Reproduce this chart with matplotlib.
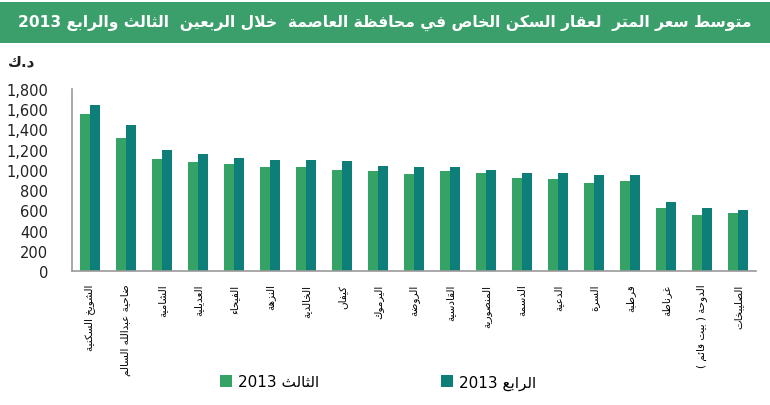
import re
import matplotlib
matplotlib.use("Agg")
import matplotlib.pyplot as plt
from matplotlib.patches import Rectangle, Patch
from matplotlib.ticker import FuncFormatter

# ---------------- data ----------------
title_text = "متوسط سعر المتر  لعقار السكن الخاص في محافظة العاصمة  خلال الربعين  الثالث والرابع 2013"
unit_text = "د.ك"
categories = ["الشويخ السكنية", "ضاحية عبدالله السالم", "الشامية", "العديلية", "الفيحاء",
              "النزهة", "الخالدية", "كيفان", "اليرموك", "الروضة", "القادسية", "المنصورية",
              "الدسمة", "الدعية", "السرة", "قرطبة", "غرناطة", "الدوحة ( بيت قائم )", "الصليبخات"]
q3_values = [1550, 1320, 1110, 1080, 1060, 1025, 1025, 995, 985, 955, 985, 965,
             918, 908, 872, 892, 622, 552, 572]
q4_values = [1645, 1440, 1197, 1153, 1120, 1100, 1100, 1090, 1040, 1030, 1025, 998,
             972, 965, 948, 945, 682, 622, 602]
series_labels = ["الثالث 2013", "الرابع 2013"]
y_ticks = [0, 200, 400, 600, 800, 1000, 1200, 1400, 1600, 1800]

# ---------------- Arabic shaping helpers ----------------
FORMS = {
    '\u0621': (0xFE80, 1), '\u0622': (0xFE81, 2), '\u0623': (0xFE83, 2), '\u0624': (0xFE85, 2),
    '\u0625': (0xFE87, 2), '\u0626': (0xFE89, 4), '\u0627': (0xFE8D, 2), '\u0628': (0xFE8F, 4),
    '\u0629': (0xFE93, 2), '\u062A': (0xFE95, 4), '\u062B': (0xFE99, 4), '\u062C': (0xFE9D, 4),
    '\u062D': (0xFEA1, 4), '\u062E': (0xFEA5, 4), '\u062F': (0xFEA9, 2), '\u0630': (0xFEAB, 2),
    '\u0631': (0xFEAD, 2), '\u0632': (0xFEAF, 2), '\u0633': (0xFEB1, 4), '\u0634': (0xFEB5, 4),
    '\u0635': (0xFEB9, 4), '\u0636': (0xFEBD, 4), '\u0637': (0xFEC1, 4), '\u0638': (0xFEC5, 4),
    '\u0639': (0xFEC9, 4), '\u063A': (0xFECD, 4), '\u0641': (0xFED1, 4), '\u0642': (0xFED5, 4),
    '\u0643': (0xFED9, 4), '\u0644': (0xFEDD, 4), '\u0645': (0xFEE1, 4), '\u0646': (0xFEE5, 4),
    '\u0647': (0xFEE9, 4), '\u0648': (0xFEED, 2), '\u0649': (0xFEEF, 2), '\u064A': (0xFEF1, 4),
}
LAMALEF = {'\u0622': 0xFEF5, '\u0623': 0xFEF7, '\u0625': 0xFEF9, '\u0627': 0xFEFB}
MIRROR = {'(': ')', ')': '('}


def shape(s):
    toks = []
    i = 0
    while i < len(s):
        c = s[i]
        if c == '\u0644' and i + 1 < len(s) and s[i + 1] in LAMALEF:
            toks.append(('LA', LAMALEF[s[i + 1]]))
            i += 2
        else:
            toks.append((c, None))
            i += 1

    def nf(t):
        if t[0] == 'LA':
            return 2
        return FORMS.get(t[0], (0, 0))[1]

    res = []
    for k, t in enumerate(toks):
        n = nf(t)
        if n == 0:
            res.append(t[0])
            continue
        base = t[1] if t[0] == 'LA' else FORMS[t[0]][0]
        if n == 1:
            res.append(chr(base))
            continue
        pj = k > 0 and nf(toks[k - 1]) == 4
        nj = n == 4 and k + 1 < len(toks) and nf(toks[k + 1]) >= 2
        off = 3 if (pj and nj) else 1 if pj else 2 if nj else 0
        res.append(chr(base + off))
    return ''.join(res)


def rtl(s):
    shaped = shape(s)
    runs = re.findall(r'[0-9][0-9,.]*|[^0-9]+', shaped)
    out = []
    for r in reversed(runs):
        if r[0].isdigit():
            out.append(r)
        else:
            out.append(''.join(MIRROR.get(c, c) for c in reversed(r)))
    return ''.join(out)


# ---------------- figure ----------------
plt.rcParams['font.family'] = ['DejaVu Sans']
W, H = 770, 406
fig = plt.figure(figsize=(W / 100, H / 100), dpi=100)
fig.patch.set_facecolor('white')

# title banner
fig.patches.append(Rectangle((0, 1 - 44 / H), 1, 41 / H, transform=fig.transFigure,
                             facecolor='#3a9f6b', edgecolor='none', zorder=0))
fig.text(0.5, 1 - 23 / H, rtl(title_text), color='white', fontsize=11.2, fontweight='bold',
         ha='center', va='center')
fig.text(22 / W, 1 - 62 / H, rtl(unit_text), fontsize=11, fontweight='bold', ha='center',
         va='center', color='#222222')

ax = fig.add_axes([72 / W, (H - 272) / H, (756 - 72) / W, (272 - 90) / H])
c3 = '#35a266'
c4 = '#0e7e79'
bw = 0.29
x = list(range(len(categories)))
ax.bar([v - bw / 2 for v in x], q3_values, width=bw, color=c3)
ax.bar([v + bw / 2 for v in x], q4_values, width=bw, color=c4)

ax.set_xlim(-0.5, len(categories) - 0.5)
ax.set_ylim(0, 1800)
ax.set_yticks(y_ticks)
ax.yaxis.set_major_formatter(FuncFormatter(lambda v, p: f"{int(v):,}"))
ax.set_xticks(x)
ax.set_xticklabels([rtl(c) for c in categories], rotation=90, fontsize=7.5, va='top',
                   ha='center')
ax.tick_params(axis='x', length=0, pad=9)
ax.tick_params(axis='y', length=0, pad=17, labelsize=10.5, labelcolor='#222222')
for s in ['top', 'right']:
    ax.spines[s].set_visible(False)
for s in ['left', 'bottom']:
    ax.spines[s].set_color('#9a9a9a')
    ax.spines[s].set_linewidth(1.2)

handles = [Patch(facecolor=c3), Patch(facecolor=c4)]
fig.legend(handles, [rtl(l) for l in series_labels], loc='center',
           bbox_to_anchor=(378 / W, 1 - 383 / H), ncol=2, frameon=False,
           columnspacing=7.95, handlelength=0.8, handleheight=0.8, handletextpad=0.4,
           fontsize=11)

fig.savefig('out.png', dpi=100)
